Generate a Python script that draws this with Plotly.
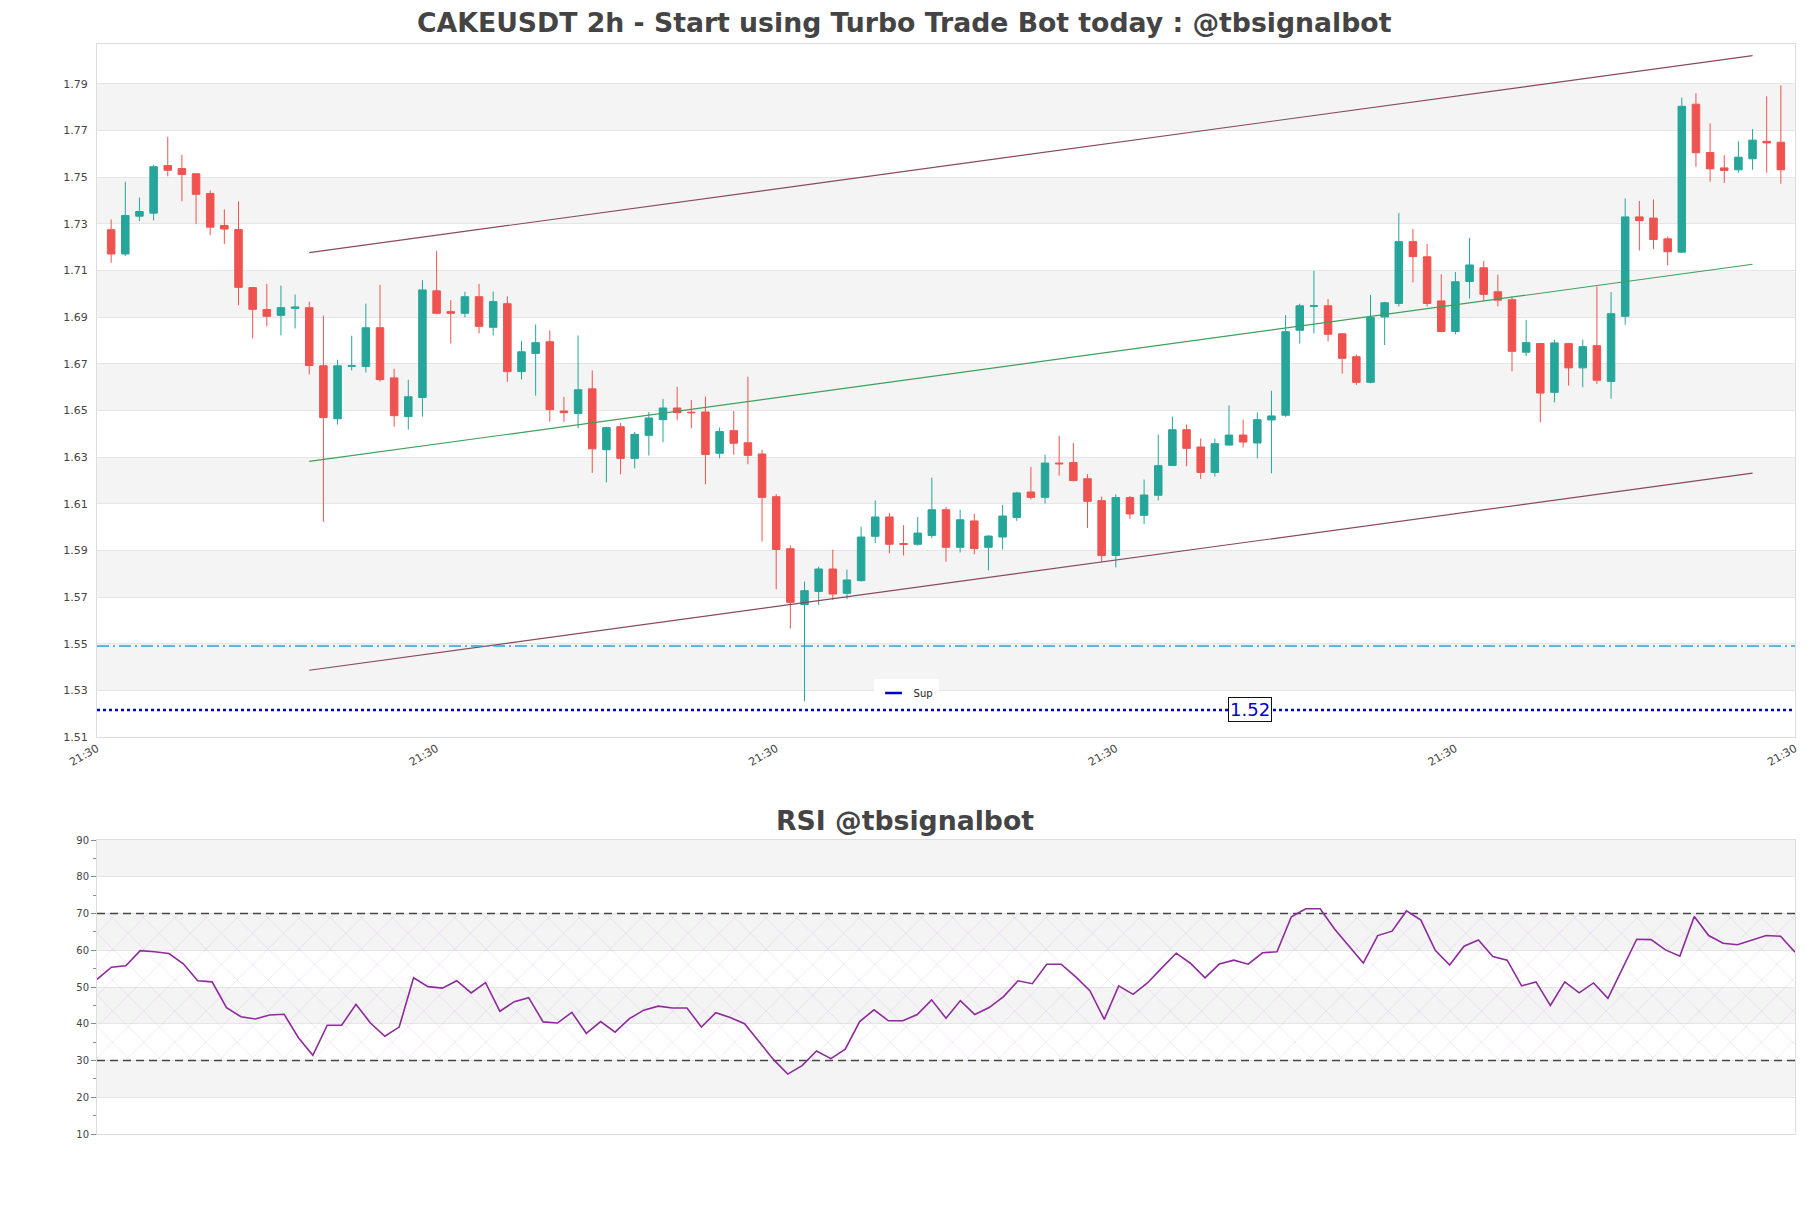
import plotly.graph_objects as go
import pandas as pd

# ---------------- data ----------------
open_ = [1.7274, 1.7170, 1.7332, 1.7345, 1.7549, 1.7536, 1.7514, 1.7429, 1.7292, 1.7275,
         1.7026, 1.6932, 1.6907, 1.6937, 1.6940, 1.6691, 1.6464, 1.6689, 1.6688, 1.6854,
         1.6639, 1.6473, 1.6555, 1.7012, 1.6923, 1.6916, 1.6987, 1.6856, 1.6957, 1.6666,
         1.6744, 1.6794, 1.6497, 1.6486, 1.6592, 1.6331, 1.6430, 1.6294, 1.6393, 1.6460,
         1.6510, 1.6492, 1.6493, 1.6316, 1.6413, 1.6361, 1.6313, 1.6130, 1.5907, 1.5668,
         1.5724, 1.5820, 1.5716, 1.5770, 1.5960, 1.6043, 1.5929, 1.5926, 1.5964, 1.6074,
         1.5913, 1.6026, 1.5913, 1.5957, 1.6041, 1.6150, 1.6127, 1.6274, 1.6276, 1.6207,
         1.6113, 1.5878, 1.6126, 1.6050, 1.6136, 1.6264, 1.6417, 1.6343, 1.6234, 1.6351,
         1.6394, 1.6360, 1.6459, 1.6479, 1.6843, 1.6946, 1.6948, 1.6828, 1.6730, 1.6620,
         1.6900, 1.6958, 1.7223, 1.7158, 1.6969, 1.6838, 1.7052, 1.7111, 1.7008, 1.6974,
         1.6749, 1.6786, 1.6577, 1.6786, 1.6682, 1.6777, 1.6624, 1.6903, 1.7329, 1.7324,
         1.7235, 1.7178, 1.7812, 1.7605, 1.7539, 1.7531, 1.7578, 1.7653, 1.7649]
high = [1.7318, 1.7480, 1.7412, 1.7553, 1.7672, 1.7595, 1.7516, 1.7442, 1.7361, 1.7395,
        1.7028, 1.7042, 1.7035, 1.6996, 1.6966, 1.6906, 1.6717, 1.6820, 1.6957, 1.7038,
        1.6678, 1.6631, 1.7058, 1.7183, 1.6972, 1.7008, 1.7042, 1.7009, 1.6989, 1.6798,
        1.6868, 1.6843, 1.6558, 1.6821, 1.6671, 1.6430, 1.6445, 1.6407, 1.6493, 1.6549,
        1.6601, 1.6544, 1.6559, 1.6426, 1.6497, 1.6644, 1.6331, 1.6141, 1.5921, 1.5766,
        1.5830, 1.5903, 1.5817, 1.6001, 1.6114, 1.6060, 1.6008, 1.6043, 1.6211, 1.6086,
        1.6074, 1.6056, 1.5965, 1.6094, 1.6151, 1.6257, 1.6310, 1.6391, 1.6361, 1.6226,
        1.6130, 1.6140, 1.6133, 1.6203, 1.6396, 1.6473, 1.6439, 1.6379, 1.6379, 1.6521,
        1.6460, 1.6491, 1.6584, 1.6908, 1.6957, 1.7098, 1.6977, 1.6830, 1.6739, 1.6995,
        1.6965, 1.7346, 1.7277, 1.7213, 1.7083, 1.7093, 1.7239, 1.7140, 1.7081, 1.6988,
        1.6888, 1.6788, 1.6803, 1.6788, 1.6803, 1.7031, 1.7007, 1.7408, 1.7397, 1.7404,
        1.7245, 1.7840, 1.7859, 1.7730, 1.7594, 1.7653, 1.7705, 1.7846, 1.7893]
low = [1.7132, 1.7161, 1.7311, 1.7314, 1.7503, 1.7396, 1.7298, 1.7251, 1.7213, 1.6950,
       1.6808, 1.6860, 1.6821, 1.6851, 1.6654, 1.6022, 1.6439, 1.6671, 1.6662, 1.6623,
       1.6430, 1.6417, 1.6473, 1.6914, 1.6787, 1.6899, 1.6830, 1.6821, 1.6622, 1.6632,
       1.6563, 1.6451, 1.6451, 1.6423, 1.6232, 1.6191, 1.6226, 1.6251, 1.6306, 1.6363,
       1.6457, 1.6423, 1.6183, 1.6294, 1.6310, 1.6269, 1.5938, 1.5733, 1.5565, 1.5253,
       1.5665, 1.5687, 1.5691, 1.5766, 1.5931, 1.5887, 1.5878, 1.5920, 1.5953, 1.5851,
       1.5891, 1.5883, 1.5814, 1.5904, 1.6026, 1.6118, 1.6101, 1.6220, 1.6196, 1.5996,
       1.5850, 1.5827, 1.6034, 1.6013, 1.6114, 1.6261, 1.6260, 1.6206, 1.6217, 1.6349,
       1.6341, 1.6294, 1.6230, 1.6472, 1.6786, 1.6830, 1.6796, 1.6657, 1.6609, 1.6616,
       1.6780, 1.6945, 1.7048, 1.6945, 1.6834, 1.6826, 1.6979, 1.6971, 1.6945, 1.6667,
       1.6732, 1.6449, 1.6534, 1.6606, 1.6599, 1.6613, 1.6550, 1.6867, 1.7185, 1.7192,
       1.7121, 1.7175, 1.7544, 1.7480, 1.7475, 1.7518, 1.7531, 1.7518, 1.7471]
close = [1.7170, 1.7335, 1.7352, 1.7544, 1.7529, 1.7511, 1.7426, 1.7285, 1.7277, 1.7027,
         1.6933, 1.6903, 1.6940, 1.6943, 1.6692, 1.6469, 1.6691, 1.6691, 1.6854, 1.6632,
         1.6477, 1.6558, 1.7016, 1.6916, 1.6916, 1.6987, 1.6860, 1.6966, 1.6666, 1.6751,
         1.6790, 1.6503, 1.6490, 1.6588, 1.6335, 1.6426, 1.6294, 1.6397, 1.6467, 1.6510,
         1.6490, 1.6490, 1.6311, 1.6409, 1.6359, 1.6307, 1.6127, 1.5904, 1.5677, 1.5727,
         1.5820, 1.5713, 1.5773, 1.5957, 1.6043, 1.5926, 1.5926, 1.5974, 1.6074, 1.5913,
         1.6031, 1.5908, 1.5961, 1.6047, 1.6146, 1.6127, 1.6274, 1.6271, 1.6199, 1.6110,
         1.5878, 1.6126, 1.6056, 1.6137, 1.6263, 1.6417, 1.6337, 1.6234, 1.6357, 1.6394,
         1.6364, 1.6460, 1.6476, 1.6837, 1.6948, 1.6948, 1.6826, 1.6723, 1.6620, 1.6898,
         1.6961, 1.7223, 1.7159, 1.6958, 1.6838, 1.7051, 1.7123, 1.6997, 1.6972, 1.6753,
         1.6790, 1.6574, 1.6789, 1.6682, 1.6773, 1.6629, 1.6914, 1.7329, 1.7313, 1.7232,
         1.7180, 1.7803, 1.7604, 1.7535, 1.7528, 1.7585, 1.7658, 1.7646, 1.7531]
rsi = [52.1, 55.4, 55.8, 59.9, 59.6, 59.1, 56.3, 51.7, 51.4, 44.4,
       41.9, 41.3, 42.4, 42.6, 36.2, 31.4, 39.6, 39.6, 45.3, 40.2,
       36.6, 39.1, 52.5, 50.1, 49.7, 51.7, 48.4, 51.2, 43.4, 46.0,
       47.1, 40.5, 40.2, 43.1, 37.4, 40.6, 37.7, 41.4, 43.7, 44.8,
       44.3, 44.3, 39.1, 43.0, 41.7, 40.0, 35.2, 30.3, 26.3, 28.6,
       32.6, 30.5, 33.1, 40.6, 43.8, 40.8, 40.8, 42.5, 46.5, 41.5,
       46.3, 42.5, 44.4, 47.4, 51.7, 50.9, 56.2, 56.2, 52.8, 49.0,
       41.2, 50.3, 48.0, 51.1, 55.2, 59.2, 56.4, 52.5, 56.3, 57.3,
       56.2, 59.3, 59.6, 69.1, 71.3, 71.3, 65.8, 61.0, 56.5, 64.0,
       65.2, 70.7, 68.2, 60.0, 56.0, 61.1, 62.8, 58.3, 57.3, 50.3,
       51.4, 45.0, 51.4, 48.4, 51.1, 46.9, 55.0, 63.0, 62.9, 60.1,
       58.4, 69.2, 64.0, 61.9, 61.5, 62.7, 64.0, 63.8, 59.5]

first_candle_time = "2024-05-01 23:30"
times = pd.date_range(first_candle_time, periods=len(close), freq="2h")

x_tick_times = pd.date_range("2024-05-01 21:30", periods=6, freq="2D")
x_tick_labels = ["21:30", "21:30", "21:30", "21:30", "21:30", "21:30"]

price_ticks = [1.51, 1.53, 1.55, 1.57, 1.59, 1.61, 1.63, 1.65, 1.67, 1.69, 1.71, 1.73, 1.75, 1.77, 1.79]
price_range = [1.51, 1.807]
rsi_ticks = [10, 20, 30, 40, 50, 60, 70, 80, 90]

# channel lines: (start candle, end candle)
trend_idx = [14, 116]
upper_line = [1.7176, 1.8020]
mid_line = [1.6281, 1.7126]
lower_line = [1.5386, 1.6231]

resist_level = 1.549
sup_level = 1.5216
sup_label = "1.52"
sup_label_idx = 80

rsi_levels = [30, 70]

title_main = "CAKEUSDT 2h - Start using Turbo Trade Bot today : @tbsignalbot"
title_rsi = "RSI @tbsignalbot"

# ---------------- figure ----------------
W, H = 1811, 1208
ml, mr, mt, mb = 97, 14, 44, 74
ph = H - mt - mb
price_dom = [(H - mb - 737) / ph, 1.0]
rsi_dom = [0.0, (H - mb - 840) / ph]

FONT = "DejaVu Sans"
TXT = "#444444"
GRID = "#e6e6e6"
BAND = "#f4f4f4"
SUP_COL = "#0000cd"

fig = go.Figure()

fig.add_trace(go.Candlestick(
    x=times, open=open_, high=high, low=low, close=close,
    increasing=dict(line=dict(color="#26a69a", width=1), fillcolor="#26a69a"),
    decreasing=dict(line=dict(color="#ef5350", width=1), fillcolor="#ef5350"),
    whiskerwidth=0, showlegend=False, xaxis="x", yaxis="y", name="CAKEUSDT"))

tx = [times[i] for i in trend_idx]
for ys, col in [(upper_line, "#8a4a5e"), (mid_line, "#3da05c"), (lower_line, "#8a4a5e")]:
    fig.add_trace(go.Scatter(x=tx, y=ys, mode="lines", line=dict(color=col, width=1.2),
                             showlegend=False, hoverinfo="skip", xaxis="x", yaxis="y"))

fig.add_trace(go.Scatter(x=[x_tick_times[0], x_tick_times[-1]], y=[resist_level, resist_level],
                         mode="lines", line=dict(color="#2aa3da", width=1.3, dash="12px,4px,2px,4px"),
                         showlegend=False, hoverinfo="skip", xaxis="x", yaxis="y"))
fig.add_trace(go.Scatter(x=[x_tick_times[0], x_tick_times[-1]], y=[sup_level, sup_level],
                         mode="lines", line=dict(color=SUP_COL, width=2.5, dash="dot"),
                         name="Sup", showlegend=False, hoverinfo="skip", xaxis="x", yaxis="y"))
# legend entry for support line
fig.add_trace(go.Scatter(x=[None], y=[None], mode="markers", name="Sup",
                         marker=dict(symbol="line-ew", size=12, color=SUP_COL,
                                     line=dict(width=2.5, color=SUP_COL)),
                         showlegend=True, xaxis="x", yaxis="y"))

# RSI hatch zone
fig.add_trace(go.Scatter(
    x=[times[0], times[-1], times[-1], times[0], times[0]],
    y=[rsi_levels[0], rsi_levels[0], rsi_levels[1], rsi_levels[1], rsi_levels[0]],
    mode="lines", line=dict(width=0), fill="toself", fillcolor="rgba(0,0,0,0)",
    fillpattern=dict(shape="x", fgcolor="rgba(200,155,215,0.7)", bgcolor="rgba(0,0,0,0)",
                     size=22, solidity=0.06),
    showlegend=False, hoverinfo="skip", xaxis="x2", yaxis="y2"))

for lv in rsi_levels:
    fig.add_trace(go.Scatter(x=[times[0], times[-1]], y=[lv, lv], mode="lines",
                             line=dict(color="#444444", width=1.3, dash="8px,5px"),
                             showlegend=False, hoverinfo="skip", xaxis="x2", yaxis="y2"))

fig.add_trace(go.Scatter(x=times, y=rsi, mode="lines", line=dict(color="#8e2a9c", width=1.6),
                         showlegend=False, xaxis="x2", yaxis="y2", name="RSI"))

shapes = []
for i in range(1, len(price_ticks) - 1, 2):
    shapes.append(dict(type="rect", xref="x domain", yref="y", x0=0, x1=1,
                       y0=price_ticks[i], y1=price_ticks[i + 1],
                       fillcolor=BAND, line=dict(width=0), layer="below"))
for i in range(1, len(rsi_ticks) - 1, 2):
    shapes.append(dict(type="rect", xref="x2 domain", yref="y2", x0=0, x1=1,
                       y0=rsi_ticks[i], y1=rsi_ticks[i + 1],
                       fillcolor=BAND, line=dict(width=0), layer="below"))

annotations = [
    dict(text="<b>%s</b>" % title_main, xref="paper", yref="paper",
         x=(W / 2 - ml) / (W - ml - mr), y=(H - mb - 23) / ph, xanchor="center", yanchor="middle",
         showarrow=False, font=dict(family=FONT, size=26.7, color=TXT)),
    dict(text="<b>%s</b>" % title_rsi, xref="paper", yref="paper",
         x=(W / 2 - ml) / (W - ml - mr), y=(H - mb - 820) / ph, xanchor="center", yanchor="middle",
         showarrow=False, font=dict(family=FONT, size=26.7, color=TXT)),
    dict(text=sup_label, x=times[sup_label_idx] + pd.Timedelta(hours=1), y=sup_level,
         xref="x", yref="y", showarrow=False, xanchor="center", yanchor="middle",
         font=dict(family=FONT, size=18, color=SUP_COL),
         bgcolor="white", bordercolor="#111111", borderwidth=1, borderpad=1),
]

fig.update_layout(
    width=W, height=H, autosize=False,
    margin=dict(l=ml, r=mr, t=mt, b=mb),
    paper_bgcolor="white", plot_bgcolor="white",
    font=dict(family=FONT, size=11, color=TXT),
    boxgap=0.24,
    shapes=shapes, annotations=annotations,
    showlegend=True,
    legend=dict(orientation="h", x=(907 - ml) / (W - ml - mr), y=(H - mb - 693) / ph,
                xanchor="center", yanchor="middle", bgcolor="white",
                font=dict(family=FONT, size=10, color="#222222"), itemwidth=30,
                tracegroupgap=0),
    xaxis=dict(domain=[0, 1], anchor="y", type="date",
               range=[x_tick_times[0], x_tick_times[-1]],
               tickmode="array", tickvals=list(x_tick_times), ticktext=x_tick_labels,
               tickangle=-30, showgrid=False, showline=True, linecolor="#dddddd", mirror=True,
               rangeslider=dict(visible=False), tickfont=dict(size=11, color=TXT), ticks=""),
    yaxis=dict(domain=price_dom, anchor="x", range=price_range,
               tickmode="array", tickvals=price_ticks,
               ticktext=["%.2f" % v for v in price_ticks],
               showgrid=True, gridcolor=GRID, gridwidth=1, zeroline=False,
               showline=True, linecolor="#dddddd", mirror=True,
               tickfont=dict(size=11, color=TXT), ticks="", ticklabelstandoff=6),
    xaxis2=dict(domain=[0, 1], anchor="y2", type="date", range=[times[0], times[-1]],
                showticklabels=False, showgrid=False, showline=True, linecolor="#dddddd",
                mirror=True, ticks=""),
    yaxis2=dict(domain=rsi_dom, anchor="x2", range=[10, 90], tickmode="array",
                tickvals=rsi_ticks, showgrid=True, gridcolor=GRID, zeroline=False,
                showline=True, linecolor="#dddddd", mirror=True,
                ticks="outside", ticklen=5, tickcolor="#888888",
                minor=dict(ticks="outside", ticklen=3, tickcolor="#888888", dtick=5, tick0=5, showgrid=False),
                tickfont=dict(size=10, color=TXT)),
)

fig.write_html("out.html", config={"displayModeBar": False},
               post_script="document.body.style.margin='0';document.body.style.overflow='hidden';")
